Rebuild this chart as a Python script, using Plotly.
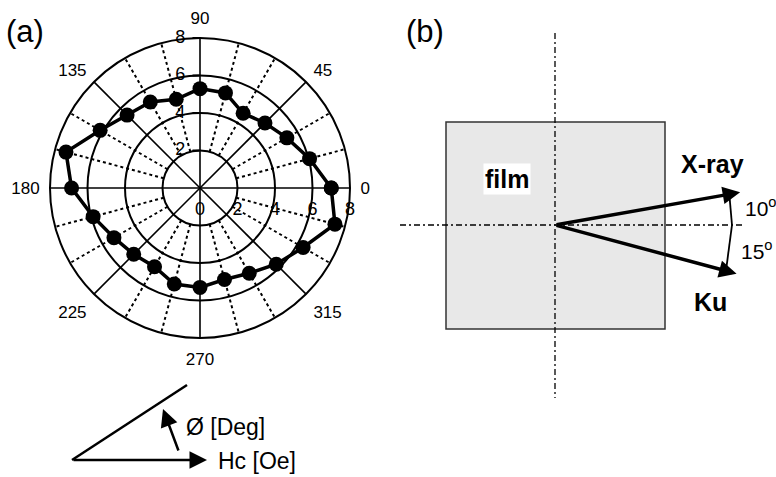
import plotly.graph_objects as go
import math

# ---------------- data (panel a) ----------------
angles_deg = [0, 15, 30, 45, 60, 75, 90, 105, 120, 135, 150, 165,
              180, 195, 210, 225, 240, 255, 270, 285, 300, 315, 330, 345]
hc_oe = [7.0, 6.05, 5.35, 4.9, 4.6, 5.25, 5.3, 4.9, 5.3, 5.5, 6.15, 7.4,
         6.85, 5.9, 5.3, 5.0, 4.85, 5.3, 5.3, 5.05, 5.25, 5.75, 6.35, 7.45]
angle_tick_vals = [0, 45, 90, 135, 180, 225, 270, 315]
angle_tick_labels = ["0", "45", "90", "135", "180", "225", "270", "315"]
radial_ticks = [2, 4, 6, 8]
radial_row_labels = [0, 2, 4, 6, 8]

# panel b schematic angles
xray_angle = 10
ku_angle = -15

FONT = "Liberation Sans, Arial, Helvetica, sans-serif"
W, H = 776, 477

fig = go.Figure()

# ---------- polar grid ----------
solid_t, solid_r, dot_t, dot_r, tick_t, tick_r = [], [], [], [], [], []
for a in angles_deg:
    if a % 45 == 0:
        solid_t += [a, a, None]; solid_r += [0, 8, None]
    else:
        dot_t += [a, a, None]; dot_r += [2, 8, None]
    tick_t += [a, a, None]; tick_r += [8, 8.35, None]

fig.add_trace(go.Scatterpolar(r=dot_r, theta=dot_t, mode="lines",
                              line=dict(color="black", width=2, dash="dot"),
                              hoverinfo="skip", showlegend=False))
fig.add_trace(go.Scatterpolar(r=solid_r, theta=solid_t, mode="lines",
                              line=dict(color="black", width=1.6),
                              hoverinfo="skip", showlegend=False))
fig.add_trace(go.Scatterpolar(r=tick_r, theta=tick_t, mode="lines",
                              line=dict(color="black", width=1.6), cliponaxis=False,
                              hoverinfo="skip", showlegend=False))

# ---------- data ----------
fig.add_trace(go.Scatterpolar(r=hc_oe + hc_oe[:1], theta=angles_deg + angles_deg[:1],
                              mode="lines+markers",
                              line=dict(color="black", width=3.5),
                              marker=dict(color="black", size=15),
                              showlegend=False))

# radial labels
fig.add_trace(go.Scatterpolar(r=radial_ticks, theta=[90] * len(radial_ticks),
                              mode="markers+text", text=[str(v) for v in radial_ticks],
                              textposition="middle left",
                              marker=dict(size=22, opacity=0),
                              textfont=dict(family=FONT, size=18, color="black"),
                              cliponaxis=False, hoverinfo="skip", showlegend=False))
fig.add_trace(go.Scatterpolar(r=radial_row_labels, theta=[0] * len(radial_row_labels),
                              mode="markers+text", text=[str(v) for v in radial_row_labels],
                              textposition="bottom center",
                              marker=dict(size=20, opacity=0),
                              textfont=dict(family=FONT, size=18, color="black"),
                              cliponaxis=False, hoverinfo="skip", showlegend=False))

cx, cy, R = 200, 188, 150
fig.update_layout(
    polar=dict(
        domain=dict(x=[(cx - R) / W, (cx + R) / W], y=[1 - (cy + R) / H, 1 - (cy - R) / H]),
        bgcolor="white",
        radialaxis=dict(range=[0, 8], tickvals=radial_ticks, showticklabels=False,
                        showgrid=True, gridcolor="black", gridwidth=1.6,
                        showline=False, angle=90, ticks="outside", ticklen=7,
                        tickcolor="black", tickwidth=1.5, side="counterclockwise"),
        angularaxis=dict(rotation=0, direction="counterclockwise",
                         tickmode="array", tickvals=angle_tick_vals,
                         ticktext=angle_tick_labels,
                         showgrid=False, showline=True, linecolor="black", linewidth=2,
                         ticks="outside", ticklen=6, tickcolor="rgba(0,0,0,0)",
                         tickfont=dict(family=FONT, size=17, color="black")),
    )
)

# ---------- pixel overlay axes for schematics ----------
fig.update_layout(
    xaxis=dict(range=[0, W], domain=[0, 1], visible=False, fixedrange=True),
    yaxis=dict(range=[H, 0], domain=[0, 1], visible=False, fixedrange=True),
)
fig.add_trace(go.Scatter(x=[0, W], y=[0, H], mode="markers", marker=dict(opacity=0),
                         hoverinfo="skip", showlegend=False))

shapes = []
ann = []

def arrow(x0, y0, x1, y1, width, size=1.0):
    ann.append(dict(x=x1, y=y1, ax=x0, ay=y0, xref="x", yref="y", axref="x", ayref="y",
                    showarrow=True, arrowhead=2, arrowsize=size, arrowwidth=width,
                    arrowcolor="black", text="", standoff=0, startstandoff=0))

# panel a: Hc / phi legend diagram
o_x, o_y = 72, 460
shapes.append(dict(type="line", xref="x", yref="y", x0=o_x, y0=o_y, x1=187, y1=385,
                   line=dict(color="black", width=2.5)))
arrow(o_x, o_y, 207, o_y, 2.5, 1.4)
arrow(179, 452, 163, 409, 2.5, 1.4)
ann.append(dict(x=184, y=427, xref="x", yref="y", text="Ø [Deg]", showarrow=False,
                xanchor="left", yanchor="middle", font=dict(family=FONT, size=23, color="black")))
ann.append(dict(x=216, y=461, xref="x", yref="y", text="Hc [Oe]", showarrow=False,
                xanchor="left", yanchor="middle", font=dict(family=FONT, size=23, color="black")))

# panel labels
ann.append(dict(x=4, y=31, xref="x", yref="y", text="(a)", showarrow=False,
                xanchor="left", yanchor="middle", font=dict(family=FONT, size=31, color="black")))
ann.append(dict(x=404, y=31, xref="x", yref="y", text="(b)", showarrow=False,
                xanchor="left", yanchor="middle", font=dict(family=FONT, size=31, color="black")))

# panel b
bx, by = 555, 225
shapes.append(dict(type="rect", xref="x", yref="y", x0=446, y0=122, x1=665, y1=329,
                   fillcolor="#e8e8e8", line=dict(color="#333333", width=1.5), layer="below"))
shapes.append(dict(type="line", xref="x", yref="y", x0=bx, y0=33, x1=bx, y1=398,
                   line=dict(color="black", width=1.3, dash="6px,3px,2px,3px")))
shapes.append(dict(type="line", xref="x", yref="y", x0=400, y0=by, x1=743, y1=by,
                   line=dict(color="black", width=1.3, dash="6px,3px,2px,3px")))
L = 188
for ang in (xray_angle, ku_angle):
    t = math.radians(ang)
    arrow(bx, by, bx + L * math.cos(t), by - L * math.sin(t), 3.5, 1.0)
Rc = 177
pts = [(bx + Rc * math.cos(math.radians(a)), by - Rc * math.sin(math.radians(a)))
       for a in (xray_angle, 0, ku_angle)]
for (x0, y0), (x1, y1) in zip(pts[:-1], pts[1:]):
    shapes.append(dict(type="line", xref="x", yref="y", x0=x0, y0=y0, x1=x1, y1=y1,
                       line=dict(color="black", width=1.8)))

ann.append(dict(x=507, y=179, xref="x", yref="y", text="<b>film</b>", showarrow=False,
                bgcolor="white", borderpad=1, font=dict(family=FONT, size=25, color="black")))
ann.append(dict(x=712, y=164, xref="x", yref="y", text="<b>X-ray</b>", showarrow=False,
                font=dict(family=FONT, size=25, color="black")))
ann.append(dict(x=710, y=302, xref="x", yref="y", text="<b>Ku</b>", showarrow=False,
                font=dict(family=FONT, size=25, color="black")))
ann.append(dict(x=743, y=207, xref="x", yref="y", text="10<sup>o</sup>", showarrow=False,
                xanchor="left", font=dict(family=FONT, size=21, color="black")))
ann.append(dict(x=739, y=250, xref="x", yref="y", text="15<sup>o</sup>", showarrow=False,
                xanchor="left", font=dict(family=FONT, size=21, color="black")))

fig.update_layout(shapes=shapes, annotations=ann,
                  width=W, height=H, margin=dict(l=0, r=0, t=0, b=0),
                  paper_bgcolor="white", plot_bgcolor="rgba(0,0,0,0)",
                  showlegend=False)

fig.write_html("out.html")
